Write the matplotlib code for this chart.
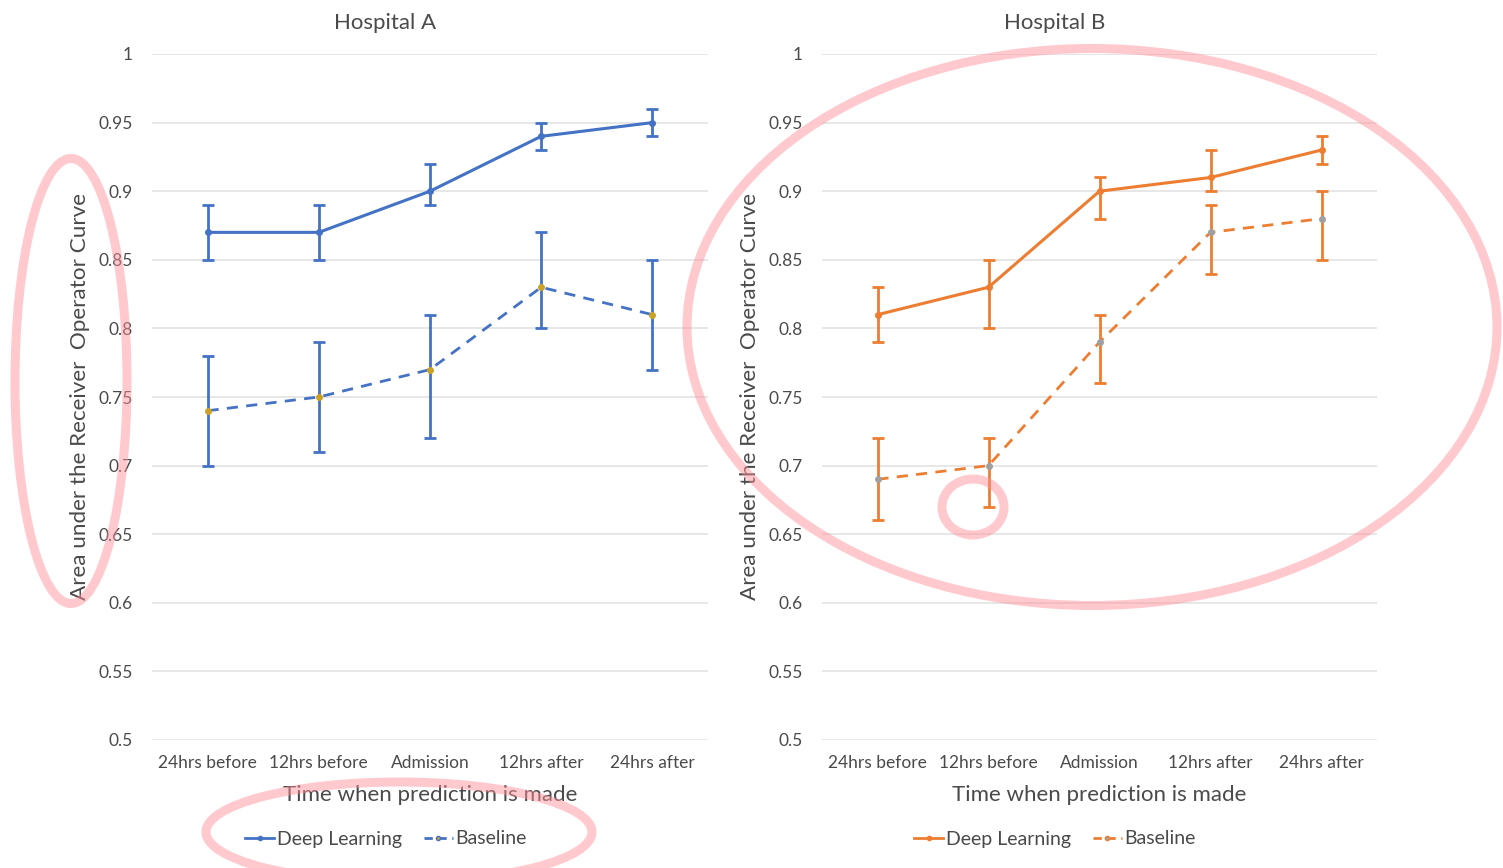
import matplotlib
matplotlib.use("Agg")
import matplotlib.pyplot as plt
from matplotlib.patches import Ellipse
from matplotlib.lines import Line2D

plt.rcParams['font.family'] = ['Lato', 'DejaVu Sans']

categories = ["24hrs before", "12hrs before", "Admission", "12hrs after", "24hrs after"]
yticks = [0.5, 0.55, 0.6, 0.65, 0.7, 0.75, 0.8, 0.85, 0.9, 0.95, 1.0]
ytick_labels = ["0.5", "0.55", "0.6", "0.65", "0.7", "0.75", "0.8", "0.85", "0.9", "0.95", "1"]

# Hospital A
a_dl = [0.87, 0.87, 0.90, 0.94, 0.95]
a_dl_lo = [0.85, 0.85, 0.89, 0.93, 0.94]
a_dl_hi = [0.89, 0.89, 0.92, 0.95, 0.96]
a_bl = [0.74, 0.75, 0.77, 0.83, 0.81]
a_bl_lo = [0.70, 0.71, 0.72, 0.80, 0.77]
a_bl_hi = [0.78, 0.79, 0.81, 0.87, 0.85]

# Hospital B
b_dl = [0.81, 0.83, 0.90, 0.91, 0.93]
b_dl_lo = [0.79, 0.80, 0.88, 0.90, 0.92]
b_dl_hi = [0.83, 0.85, 0.91, 0.93, 0.94]
b_bl = [0.69, 0.70, 0.79, 0.87, 0.88]
b_bl_lo = [0.66, 0.67, 0.76, 0.84, 0.85]
b_bl_hi = [0.72, 0.72, 0.81, 0.89, 0.90]

TXT = '#4a4a4a'
BLUE = '#4472C4'
ORANGE = '#ED7D31'
PINK = '#ff8f99'

fig = plt.figure(figsize=(15.03, 8.68), dpi=100)

def panel(rect, title, color, dl, dl_lo, dl_hi, bl, bl_lo, bl_hi, bl_mfc, leg_x):
    ax = fig.add_axes(rect)
    x = list(range(len(categories)))
    def err(v, lo, hi):
        return [[vi - l for vi, l in zip(v, lo)], [h - vi for vi, h in zip(v, hi)]]
    ax.errorbar(x, dl, yerr=err(dl, dl_lo, dl_hi), color=color, lw=2.2, marker='o', ms=4,
                capsize=4, capthick=2, elinewidth=2, zorder=3)
    ax.errorbar(x, bl, yerr=err(bl, bl_lo, bl_hi), color=color, lw=2.0, ls=(0, (4, 3)), marker='o', ms=4,
                mfc=bl_mfc, mec=bl_mfc, capsize=4, capthick=2, elinewidth=2, zorder=3)
    ax.set_xlim(-0.5, 4.5)
    ax.set_ylim(0.5, 1.0)
    ax.set_yticks(yticks)
    ax.set_yticklabels(ytick_labels)
    ax.set_xticks(x)
    ax.set_xticklabels(categories)
    ax.tick_params(axis='both', length=0, labelsize=12.5, labelcolor=TXT)
    ax.tick_params(axis='y', pad=14)
    ax.tick_params(axis='x', pad=11)
    ax.grid(axis='y', color='#e3e3e3', lw=1.2)
    ax.set_axisbelow(True)
    for s in ax.spines.values():
        s.set_visible(False)
    ax.set_title(title, fontsize=16, color=TXT, pad=18, x=0.419)
    ax.set_xlabel("Time when prediction is made", fontsize=16, color=TXT, labelpad=10)
    ax.set_ylabel("Area under the Receiver  Operator Curve", fontsize=16.2, color=TXT)
    ax.yaxis.set_label_coords(-0.112, 0.5)
    h1 = Line2D([], [], color=color, lw=2, marker='o', ms=3)
    h2 = Line2D([], [], color=color, lw=2, ls=(0, (3, 2)), marker='o', ms=3, mfc=bl_mfc, mec=color)
    fig.legend([h1, h2], ["Deep Learning", "Baseline"], loc='center', bbox_to_anchor=(leg_x, 1 - 839 / 868),
               ncol=2, frameon=False, fontsize=14, labelcolor=TXT, handlelength=1.5,
               handletextpad=0.15, columnspacing=1.1)
    return ax

W = 1503.0
H = 868.0
panel([152 / W, 1 - 740 / H, 556 / W, 686 / H], "Hospital A", BLUE,
      a_dl, a_dl_lo, a_dl_hi, a_bl, a_bl_lo, a_bl_hi, '#c9a227', 386 / W)
panel([822 / W, 1 - 740 / H, 555 / W, 686 / H], "Hospital B", ORANGE,
      b_dl, b_dl_lo, b_dl_hi, b_bl, b_bl_lo, b_bl_hi, '#a0a0a0', 1055 / W)

# pink hand-drawn annotation ellipses
ov = fig.add_axes([0, 0, 1, 1], zorder=10)
ov.set_xlim(0, W)
ov.set_ylim(H, 0)
ov.axis('off')
ov.patch.set_alpha(0)
for (cx, cy, w, h) in [(71, 381, 112, 445), (1092, 327, 810, 557), (973, 507, 62, 56), (399, 832, 386, 100)]:
    ov.add_patch(Ellipse((cx, cy), w, h, fill=False, ec=PINK, lw=6.5, alpha=0.48))

fig.savefig("out.png", dpi=100)
